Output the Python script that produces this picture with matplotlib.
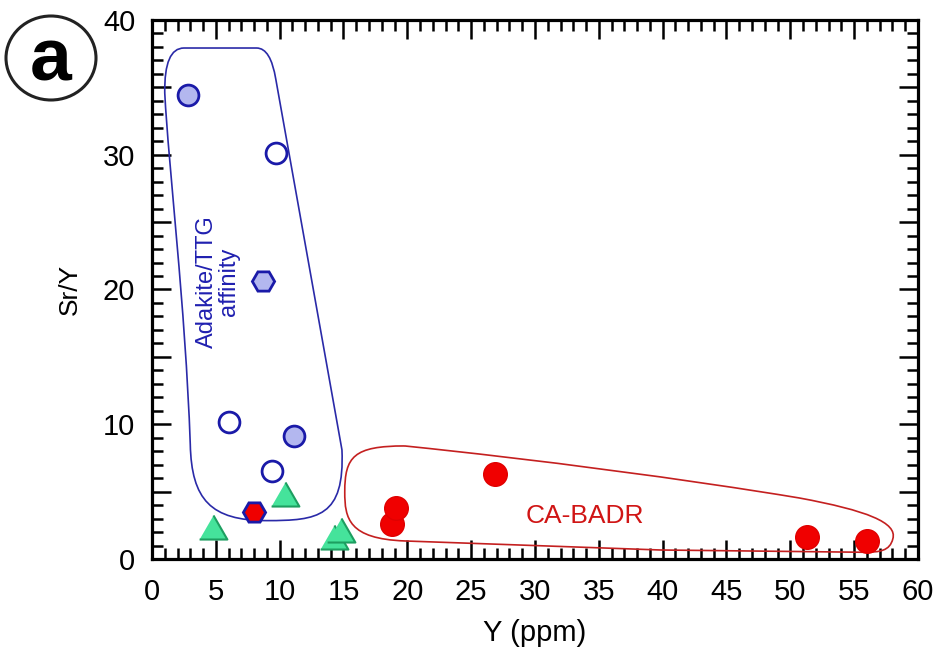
import matplotlib
matplotlib.use("Agg")
import matplotlib.pyplot as plt
from matplotlib.path import Path
from matplotlib.patches import PathPatch, Ellipse
from matplotlib.ticker import MultipleLocator, FuncFormatter

plt.rcParams["font.family"] = ["Liberation Sans", "DejaVu Sans"]

# --- data (Y ppm, Sr/Y) ---
blue_filled_x = [2.8, 11.1]
blue_filled_y = [34.4, 9.1]
blue_open_x = [9.7, 6.0, 9.4]
blue_open_y = [30.1, 10.2, 6.5]
blue_hex_x = [8.7]
blue_hex_y = [20.6]
red_hex_x = [8.0]
red_hex_y = [3.5]
tri_x = [4.75, 10.4, 14.25, 14.8]
tri_y = [2.4, 4.8, 1.6, 2.15]
red_x = [18.8, 19.1, 26.9, 51.3, 56.0]
red_y = [2.6, 3.75, 6.3, 1.6, 1.35]

# field outlines (data units) as bezier paths
adakite_verts = [(1.0, 34.6), (0.95, 37.92), (2.5, 37.92), (8.2, 37.92),
                 (9.3, 37.92), (9.7, 35.6), (14.88, 8.1),
                 (15.1, 3.1), (13.0, 2.85), (9.0, 2.85),
                 (4.6, 2.85), (3.1, 4.4), (3.0, 8.5),
                 (2.6, 19.0), (1.3, 29.0), (1.0, 34.6)]
adakite_codes = [Path.MOVETO, Path.CURVE3, Path.CURVE3, Path.LINETO,
                 Path.CURVE3, Path.CURVE3, Path.LINETO,
                 Path.CURVE4, Path.CURVE4, Path.CURVE4,
                 Path.CURVE4, Path.CURVE4, Path.CURVE4,
                 Path.CURVE4, Path.CURVE4, Path.CURVE4]
badr_verts = [(19.8, 8.39), (30.0, 7.4), (42.0, 5.9), (50.7, 4.53),
              (56.0, 3.6), (58.4, 2.7), (58.03, 1.5),
              (57.8, 0.6), (57.0, 0.5), (55.8, 0.5),
              (39.8, 0.67), (19.8, 1.34),
              (15.4, 1.5), (15.1, 3.0), (15.1, 4.97),
              (15.1, 7.6), (15.8, 8.39), (19.8, 8.39)]
badr_codes = [Path.MOVETO, Path.CURVE4, Path.CURVE4, Path.CURVE4,
              Path.CURVE4, Path.CURVE4, Path.CURVE4,
              Path.CURVE4, Path.CURVE4, Path.CURVE4,
              Path.LINETO, Path.LINETO,
              Path.CURVE4, Path.CURVE4, Path.CURVE4,
              Path.CURVE4, Path.CURVE4, Path.CURVE4]

BLUE = "#1a1aa8"
LIGHT_BLUE = "#b3b7ef"
RED = "#f00000"
GREEN = "#45e39b"
DARK_GREEN = "#1d9e60"

fig = plt.figure(figsize=(9.37, 6.51), dpi=100)
ax = fig.add_axes([0.1622, 0.1413, 0.8175, 0.828])

ax.add_patch(PathPatch(Path(adakite_verts, adakite_codes), fill=False,
                       edgecolor="#2a2aa8", lw=1.2, zorder=2))
ax.add_patch(PathPatch(Path(badr_verts, badr_codes), fill=False,
                       edgecolor="#c42020", lw=1.2, zorder=2))

tri = [(-1, -0.866), (1, -0.866), (0, 0.866)]
ax.plot(tri_x, tri_y, ls="none", marker=tri, ms=20, mfc=GREEN,
        mec=DARK_GREEN, mew=1.5, zorder=3)
ax.plot(blue_filled_x, blue_filled_y, ls="none", marker="o", ms=15,
        mfc=LIGHT_BLUE, mec=BLUE, mew=2, zorder=4)
ax.plot(blue_open_x, blue_open_y, ls="none", marker="o", ms=15,
        mfc="white", mec=BLUE, mew=2, zorder=4)
ax.plot(blue_hex_x, blue_hex_y, ls="none", marker="H", ms=16,
        mfc=LIGHT_BLUE, mec=BLUE, mew=2, zorder=4)
ax.plot(red_hex_x, red_hex_y, ls="none", marker="H", ms=16,
        mfc=RED, mec=BLUE, mew=2, zorder=4)
ax.plot(red_x, red_y, ls="none", marker="o", ms=17,
        mfc=RED, mec="#e00000", mew=1, zorder=4)

ax.text(5.15, 20.6, "Adakite/TTG\naffinity", rotation=90, color="#2020b0",
        fontsize=17, ha="center", va="center", linespacing=1.0)
ax.text(33.9, 3.2, "CA-BADR", color="#d01515", fontsize=19,
        ha="center", va="center")

ax.set_xlim(0, 60)
ax.set_ylim(0, 40)
ax.xaxis.set_major_locator(MultipleLocator(5))
ax.xaxis.set_minor_locator(MultipleLocator(1))
ax.yaxis.set_major_locator(MultipleLocator(5))
ax.yaxis.set_minor_locator(MultipleLocator(1))
ax.yaxis.set_major_formatter(FuncFormatter(
    lambda v, _: f"{v:.0f}" if round(v) % 10 == 0 else ""))
ax.tick_params(which="both", direction="in", top=True, right=True,
               width=1.8, color="black")
ax.tick_params(which="major", length=13.5, labelsize=21)
ax.tick_params(which="minor", length=8)
ax.tick_params(axis="x", which="major", pad=14)
ax.tick_params(axis="y", which="major", pad=12)
for s in ax.spines.values():
    s.set_linewidth(2.3)

ax.set_xlabel("Y (ppm)", fontsize=21, labelpad=9)
ax.set_ylabel("Sr/Y", fontsize=19, labelpad=15)

# panel label
fig.add_artist(Ellipse((51 / 937, 1 - 58 / 651), 90 / 937, 84 / 651,
                       transform=fig.transFigure, fill=False,
                       edgecolor="#222222", lw=2.2))
fig.text(51 / 937, 1 - 61 / 651, "a", fontsize=54, fontweight="bold",
         ha="center", va="center")

fig.savefig("out.png", dpi=100)
